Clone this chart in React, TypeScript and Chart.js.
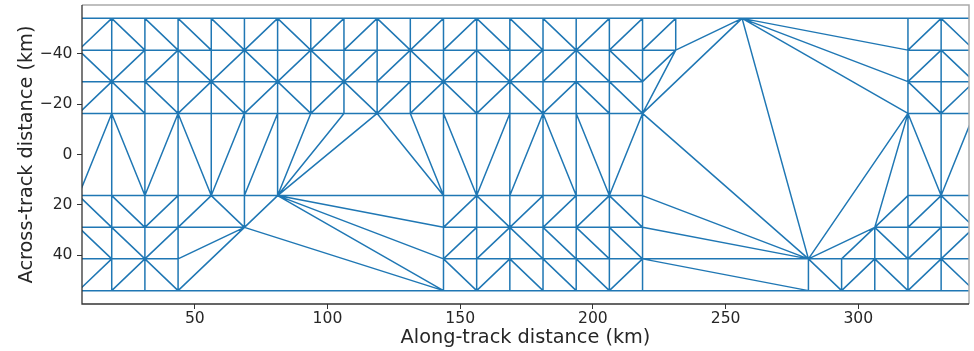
import React, { useEffect, useRef } from "react";
import { Chart, registerables } from "chart.js";

Chart.register(...registerables);

// Along-track position of each footprint column (km)
const alongTrackKm = [
  6.2, 18.7, 31.2, 43.7, 56.2, 68.7, 81.2, 93.7, 106.2, 118.7,
  131.2, 143.7, 156.2, 168.7, 181.2, 193.7, 206.2, 218.7, 231.2, 243.7,
  256.2, 268.7, 281.2, 293.7, 306.2, 318.7, 331.2, 343.7,
];

// Across-track position of each footprint row (km)
const acrossTrackKm = [-54.0, -41.4, -28.9, -16.3, 16.3, 28.9, 41.4, 54.0];

// Footprints per row, one character per column:
// '#' valid footprint, '-' missing but the row edge runs over it, '.' gap
const rowFootprints = [
  "###################-#----###",
  "###################......###",
  "##################.......###",
  "##################.......###",
  "#######----#######.......###",
  "####-#.....#######......####",
  "####.......#######----######",
  "####-------#######----######",
];

// Diagonal of each grid cell between row r and r+1:
// 'a' rises to the right, 'd' falls to the right, '.' no regular cell
const cellDiagonals = [
  "addddadaadaadddaaa.......ad",
  "daadadadaadadaadd........ad",
  "addadadadaadadadd........da",
  "adadaa.....daadda........da",
  "dda........adaaad........ad",
  "dda........aadddd.......daa",
  "aad........daddda.....dadad",
];

// Edges of the stretched triangles spanning the gaps: [col, row, col, row]
const gapEdges: [number, number, number, number][] = [
  [17, 2, 18, 1], [17, 3, 18, 1], [18, 1, 20, 0], [17, 3, 20, 0],
  [20, 0, 25, 1], [20, 0, 25, 2], [20, 0, 25, 3], [20, 0, 22, 6],
  [17, 3, 22, 6], [17, 4, 22, 6], [17, 5, 22, 6], [17, 6, 22, 7],
  [25, 3, 22, 6], [25, 3, 24, 5], [24, 5, 22, 6], [24, 5, 25, 4], [23, 6, 24, 5],
  [6, 4, 7, 3], [6, 4, 8, 3], [6, 4, 9, 3], [9, 3, 11, 4], [10, 3, 11, 4],
  [6, 4, 11, 5], [6, 4, 11, 6], [6, 4, 11, 7], [5, 5, 11, 7],
  [3, 5, 4, 4], [4, 4, 5, 5], [5, 5, 6, 4], [3, 6, 5, 5], [3, 7, 5, 5],
];

const xTickValues = [50, 100, 150, 200, 250, 300];
const yTickValues = [-40, -20, 0, 20, 40];
const xLimits = [7.5, 341.7];
const yLimits = [-59.3, 59.3];

type Edge = [number, number, number, number];

function collectEdges(): Edge[] {
  const edges: Edge[] = [];
  // along-track edges within each row
  rowFootprints.forEach((row, r) => {
    let prev = -1;
    let open = false;
    for (let c = 0; c < row.length; c++) {
      const ch = row[c];
      if (ch === "#") {
        if (prev >= 0 && open) edges.push([prev, r, c, r]);
        prev = c;
        open = true;
      } else if (ch === ".") {
        open = false;
      }
    }
  });
  // across-track edges between neighbouring rows
  for (let r = 0; r + 1 < rowFootprints.length; r++) {
    for (let c = 0; c < rowFootprints[r].length; c++) {
      if (rowFootprints[r][c] === "#" && rowFootprints[r + 1][c] === "#") {
        edges.push([c, r, c, r + 1]);
      }
    }
  }
  // one diagonal per regular cell
  cellDiagonals.forEach((band, r) => {
    for (let c = 0; c < band.length; c++) {
      if (band[c] === "a") edges.push([c, r + 1, c + 1, r]);
      else if (band[c] === "d") edges.push([c, r, c + 1, r + 1]);
    }
  });
  gapEdges.forEach((e) => edges.push(e));
  return edges;
}

function meshPath() {
  const pts: { x: number | null; y: number | null }[] = [];
  for (const [c1, r1, c2, r2] of collectEdges()) {
    pts.push({ x: alongTrackKm[c1], y: acrossTrackKm[r1] });
    pts.push({ x: alongTrackKm[c2], y: acrossTrackKm[r2] });
    pts.push({ x: null, y: null });
  }
  return pts;
}

const FONT = "'DejaVu Sans', 'Liberation Sans', sans-serif";
const TEXT = "#262626";

const framePlugin = {
  id: "frame",
  afterDatasetsDraw(chart: any) {
    const { ctx, chartArea } = chart;
    const { left, right, top, bottom } = chartArea;
    ctx.save();
    ctx.lineWidth = 1.5;
    ctx.strokeStyle = "#ababab";
    ctx.beginPath();
    ctx.moveTo(left, top);
    ctx.lineTo(right, top);
    ctx.lineTo(right, bottom);
    ctx.stroke();
    ctx.lineWidth = 1.3;
    ctx.strokeStyle = "#333333";
    ctx.beginPath();
    ctx.moveTo(left, top);
    ctx.lineTo(left, bottom);
    ctx.lineTo(right, bottom);
    ctx.stroke();
    ctx.restore();
  },
};

const minusLabel = (v: number) => (v < 0 ? "\u2212" + Math.abs(v) : String(v));

export default function App() {
  const canvasRef = useRef<HTMLCanvasElement>(null);

  useEffect(() => {
    const canvas = canvasRef.current;
    if (!canvas) return;
    const chart = new Chart(canvas, {
      type: "line",
      data: {
        datasets: [
          {
            data: meshPath() as any,
            borderColor: "#1f77b4",
            borderWidth: 1.5,
            pointRadius: 0,
            pointHoverRadius: 0,
            fill: false,
            tension: 0,
            spanGaps: false,
            clip: 0,
          } as any,
        ],
      },
      options: {
        responsive: false,
        animation: false,
        devicePixelRatio: 1,
        events: [],
        layout: { padding: { left: 0, right: 5, top: 5, bottom: 0 } },
        plugins: { legend: { display: false }, tooltip: { enabled: false } },
        scales: {
          x: {
            type: "linear",
            min: xLimits[0],
            max: xLimits[1],
            afterBuildTicks: (s: any) => {
              s.ticks = xTickValues.map((value) => ({ value }));
            },
            afterFit: (s: any) => {
              s.height = 47;
              s.paddingLeft = 0;
              s.paddingRight = 0;
            },
            grid: { drawOnChartArea: false, drawTicks: true, tickLength: 5, color: "#333333", lineWidth: 1 },
            border: { display: false },
            ticks: {
              font: { family: FONT, size: 15.6 },
              color: TEXT,
              padding: 1,
              maxRotation: 0,
              autoSkip: false,
              callback: (v: any) => minusLabel(Number(v)),
            },
            title: {
              display: true,
              text: "Along-track distance (km)",
              font: { family: FONT, size: 19.3 },
              color: TEXT,
              padding: { top: 0, bottom: 1.2 },
            },
          },
          y: {
            type: "linear",
            reverse: true,
            min: yLimits[0],
            max: yLimits[1],
            afterBuildTicks: (s: any) => {
              s.ticks = yTickValues.map((value) => ({ value }));
            },
            afterFit: (s: any) => {
              s.width = 82;
              s.paddingTop = 0;
              s.paddingBottom = 0;
            },
            grid: { drawOnChartArea: false, drawTicks: true, tickLength: 5, color: "#333333", lineWidth: 1 },
            border: { display: false },
            ticks: {
              font: { family: FONT, size: 15.6 },
              color: TEXT,
              padding: 4.5,
              autoSkip: false,
              callback: (v: any) => minusLabel(Number(v)),
            },
            title: {
              display: true,
              text: "Across-track distance (km)",
              font: { family: FONT, size: 19.3 },
              color: TEXT,
              padding: { top: 15.4, bottom: 0 },
            },
          },
        },
      } as any,
      plugins: [framePlugin],
    });
    return () => chart.destroy();
  }, []);

  return (
    <div style={{ position: "absolute", left: 0, top: 0, width: 974, height: 351, background: "#ffffff" }}>
      <canvas ref={canvasRef} width={974} height={351} style={{ display: "block" }} />
    </div>
  );
}
